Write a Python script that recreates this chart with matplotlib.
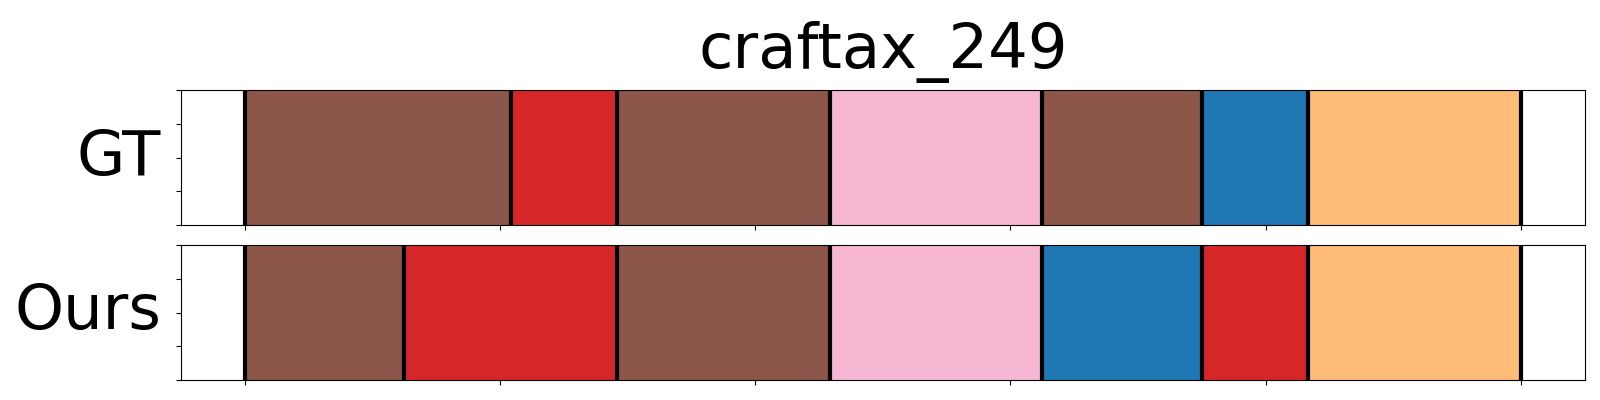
import matplotlib
matplotlib.use('Agg')
import matplotlib.pyplot as plt

# 每段的边界（步数）和颜色
total_steps = 24
gt_bounds = [0, 5, 7, 11, 15, 18, 20, 24]
gt_colors = ['#8c564b', '#d62728', '#8c564b', '#f7b6d2', '#8c564b', '#1f77b4', '#ffbb78']
ours_bounds = [0, 3, 7, 11, 15, 18, 20, 24]
ours_colors = ['#8c564b', '#d62728', '#8c564b', '#f7b6d2', '#1f77b4', '#d62728', '#ffbb78']
row_names = ['GT', 'Ours']
title = 'craftax_249'


def draw_segments(ax, bounds, colors, name):
    xs = [b / total_steps for b in bounds]
    for i, c in enumerate(colors):
        ax.axvspan(xs[i], xs[i + 1], ymin=0, ymax=1, facecolor=c, edgecolor='none')
    for x in xs:
        ax.axvline(x, color='black', linewidth=3)
    ax.set_ylim(0, 1)
    ax.margins(x=0.05)
    ax.set_yticks([0, 0.25, 0.5, 0.75, 1.0])
    ax.set_xticks([0, 0.2, 0.4, 0.6, 0.8, 1.0])
    ax.set_xticklabels([])
    ax.set_yticklabels([])
    ax.set_ylabel(name, fontsize=45, rotation=0, ha='right', va='center', labelpad=7)


fig = plt.figure(figsize=(16, 4), dpi=100)
ax1 = fig.add_axes([0.113, 0.4375, 0.8775, 0.3375])
ax2 = fig.add_axes([0.113, 0.05, 0.8775, 0.3375])

draw_segments(ax1, gt_bounds, gt_colors, row_names[0])
draw_segments(ax2, ours_bounds, ours_colors, row_names[1])
ax1.set_title(title, fontsize=45, pad=16)

fig.savefig('out.png', dpi=100)
